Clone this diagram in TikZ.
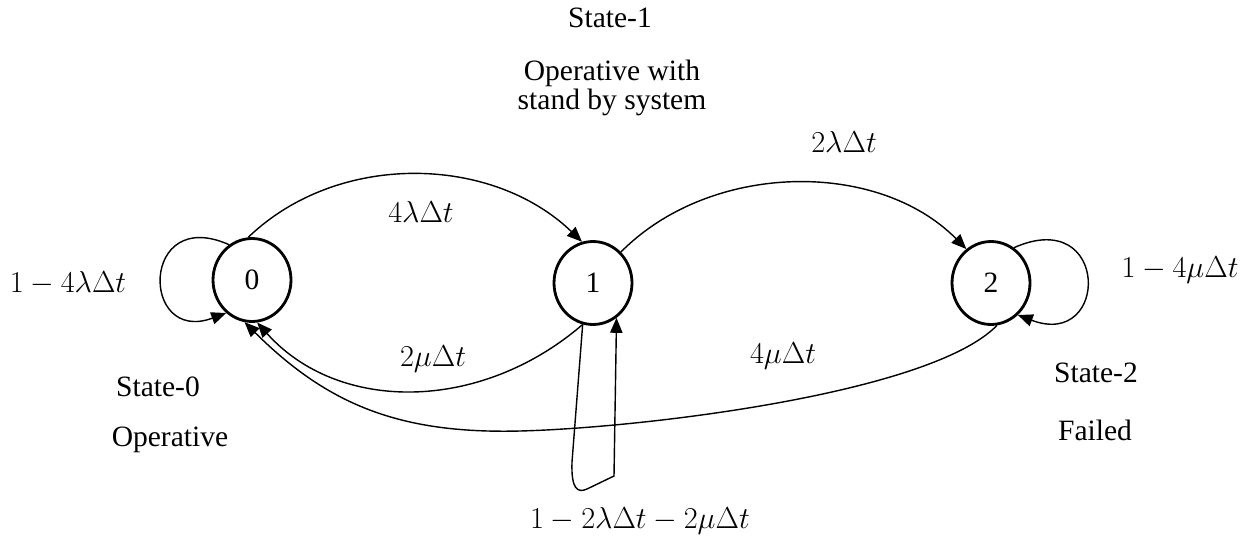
\documentclass[tikz,border=0pt]{standalone}
\usepackage{fontspec}
\setmainfont{Liberation Serif}
\usetikzlibrary{arrows.meta,shapes.geometric}
\begin{document}
\begin{tikzpicture}[x=0.02cm,y=-0.02cm,
  every node/.style={font=\fontsize{16.8}{13.6}\selectfont},
  state/.style={ellipse,draw,line width=1.6pt,minimum width=1.56cm,minimum height=1.66cm,inner sep=0pt},
  lbl/.style={inner sep=0pt,align=center},
  arr/.style={line width=0.8pt,-{Triangle[length=8.5pt,width=7pt]}}]
\useasboundingbox (0,0) rectangle (1253,544);

% states
\node[state] (n0) at (252,280) {0};
\node[state] (n1) at (593,283) {1};
\node[state] (n2) at (991,283) {2};

% texts
\node[lbl] (s1) at (610,18) {State-1};
\node[lbl] (d1) at (612,88) {Operative with\\stand by system};
\node[lbl] (s0) at (158,387) {State-0};
\node[lbl] (d0) at (170,440) {Operative};
\node[lbl] (s2) at (1096,373) {State-2};
\node[lbl] (d2) at (1095,430) {Failed};

\node[lbl] (l01) at (421,212) {$4\lambda\Delta t$};
\node[lbl] (l12) at (844,142) {$2\lambda\Delta t$};
\node[lbl] (l00) at (68,283) {$1-4\lambda\Delta t$};
\node[lbl] (l22) at (1180,270) {$1-4\mu\Delta t$};
\node[lbl] (l10) at (433,359) {$2\mu\Delta t$};
\node[lbl] (l20) at (783,356) {$4\mu\Delta t$};
\node[lbl] (l11) at (640,521) {$1-2\lambda\Delta t-2\mu\Delta t$};

% transitions
\draw[arr] (n0.95) .. controls (338,151) and (492,155) .. (n1.105);
\draw[arr] (n1.48) .. controls (710,162) and (877,159) .. (n2.126);
\draw[arr] (n1.256) .. controls (480,413) and (338,413) .. (n0.-83);
\coordinate (c4) at (520,431);
\draw[arr] (n2.-82) .. controls (930,394) and (640,428) .. (c4)
           .. controls (400,434) and (328,405) .. (n0.-100);

% self loops
\draw[arr] (n0.123) .. controls (140,205) and (140,345) .. (n0.232);
\draw[arr] (n2.57) .. controls (1110,205) and (1110,350) .. (n2.-50);
\coordinate (b1) at (572,462);
\coordinate (b2) at (587,489);
\coordinate (b3) at (614,476);
\draw[arr] (n1.256) -- (b1) .. controls (571,490) and (578,493) .. (b2) -- (b3) -- (n1.-56);
\end{tikzpicture}
\end{document}
